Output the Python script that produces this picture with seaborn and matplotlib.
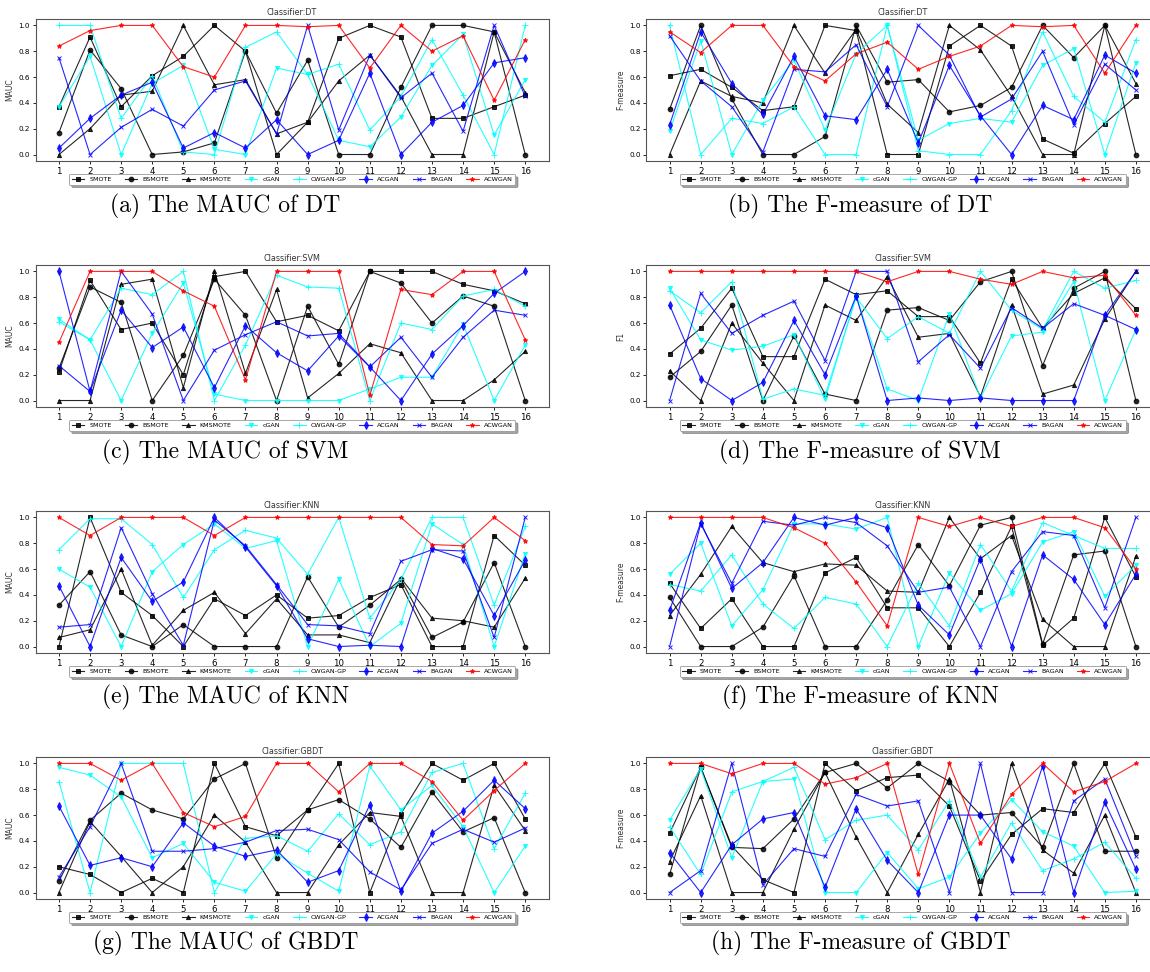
import matplotlib
matplotlib.use("Agg")

import matplotlib.pyplot as plt
import seaborn as sns

# --- data ---
X = list(range(1, 17))
METHODS = ["SMOTE", "BSMOTE", "KMSMOTE", "cGAN", "CWGAN-GP", "ACGAN", "BAGAN", "ACWGAN"]

# each panel: one list per method, in METHODS order
dt_mauc = [
    [0.37, 0.91, 0.37, 0.61, 0.76, 1.0, 0.80, 0.0, 0.25, 0.90, 1.0, 0.91, 0.28, 0.28, 0.37, 0.46],
    [0.17, 0.81, 0.51, 0.0, 0.02, 0.09, 0.80, 0.32, 0.73, 0.0, 0.0, 0.52, 1.0, 1.0, 0.95, 0.0],
    [0.0, 0.20, 0.46, 0.49, 1.0, 0.54, 0.58, 0.16, 0.25, 0.57, 0.77, 0.45, 0.0, 0.0, 0.95, 0.48],
    [0.37, 0.76, 0.0, 0.55, 0.69, 0.04, 0.0, 0.67, 0.62, 0.11, 0.06, 0.29, 0.69, 0.93, 0.15, 0.58],
    [1.0, 1.0, 0.28, 0.61, 0.02, 0.0, 0.83, 0.95, 0.62, 0.70, 0.19, 0.45, 0.89, 0.46, 0.0, 1.0],
    [0.05, 0.28, 0.46, 0.56, 0.05, 0.17, 0.05, 0.27, 0.0, 0.11, 0.63, 0.0, 0.25, 0.38, 0.71, 0.75],
    [0.75, 0.0, 0.21, 0.35, 0.22, 0.50, 0.57, 0.16, 1.0, 0.19, 0.77, 0.44, 0.63, 0.18, 1.0, 0.45],
    [0.84, 0.96, 1.0, 1.0, 0.68, 0.60, 1.0, 1.0, 0.99, 1.0, 0.67, 1.0, 0.80, 0.92, 0.42, 0.89],
]
dt_f = [
    [0.61, 0.66, 0.52, 0.34, 0.37, 1.0, 0.96, 0.0, 0.0, 0.84, 1.0, 0.84, 0.12, 0.01, 0.24, 0.45],
    [0.35, 1.0, 0.43, 0.0, 0.0, 0.14, 1.0, 0.56, 0.58, 0.33, 0.38, 0.52, 1.0, 0.75, 1.0, 0.0],
    [0.0, 0.57, 0.45, 0.40, 1.0, 0.63, 0.97, 0.39, 0.17, 1.0, 0.81, 0.45, 0.0, 0.0, 1.0, 0.55],
    [0.18, 0.88, 0.0, 0.42, 0.73, 0.19, 0.78, 1.0, 0.11, 0.24, 0.28, 0.25, 0.69, 0.82, 0.0, 0.71],
    [1.0, 0.0, 0.28, 0.24, 0.37, 0.0, 0.0, 1.0, 0.03, 0.0, 0.0, 0.34, 0.95, 0.45, 0.25, 0.89],
    [0.23, 0.95, 0.55, 0.31, 0.76, 0.30, 0.27, 0.66, 0.09, 0.69, 0.30, 0.0, 0.38, 0.27, 0.77, 0.63],
    [0.92, 0.57, 0.37, 0.02, 0.66, 0.64, 0.85, 0.37, 1.0, 0.77, 0.29, 0.43, 0.80, 0.23, 0.70, 0.50],
    [0.95, 0.79, 1.0, 1.0, 0.68, 0.57, 0.78, 0.87, 0.66, 0.76, 0.84, 1.0, 0.99, 1.0, 0.63, 1.0],
]
svm_mauc = [
    [0.22, 0.93, 0.55, 0.60, 0.20, 0.96, 1.0, 0.61, 0.66, 0.54, 1.0, 1.0, 1.0, 0.90, 0.85, 0.75],
    [0.25, 0.88, 0.76, 0.0, 0.35, 0.94, 0.66, 0.0, 0.73, 0.28, 1.0, 0.91, 0.60, 0.81, 0.73, 0.0],
    [0.0, 0.0, 0.90, 0.94, 0.10, 1.0, 0.21, 0.86, 0.02, 0.21, 0.44, 0.37, 0.0, 0.0, 0.16, 0.38],
    [0.63, 0.47, 0.0, 0.52, 0.91, 0.05, 0.0, 0.0, 0.0, 0.0, 0.09, 0.18, 0.18, 0.59, 0.0, 0.43],
    [0.61, 0.47, 0.87, 0.82, 1.0, 0.0, 0.43, 0.97, 0.88, 0.87, 0.0, 0.60, 0.55, 0.81, 0.86, 0.73],
    [1.0, 0.07, 0.70, 0.41, 0.57, 0.10, 0.58, 0.37, 0.23, 0.50, 0.26, 0.0, 0.36, 0.58, 0.83, 1.0],
    [0.27, 0.07, 1.0, 0.67, 0.0, 0.39, 0.51, 0.61, 0.50, 0.52, 0.26, 0.49, 0.18, 0.49, 0.70, 0.66],
    [0.45, 1.0, 1.0, 1.0, 0.85, 0.73, 0.16, 1.0, 1.0, 1.0, 0.04, 0.86, 0.82, 1.0, 1.0, 0.47],
]
svm_f = [
    [0.36, 0.56, 0.87, 0.34, 0.34, 0.94, 0.82, 0.85, 0.65, 0.65, 0.29, 0.94, 0.56, 0.83, 0.95, 0.71],
    [0.18, 0.38, 0.74, 0.0, 0.50, 0.05, 0.0, 0.70, 0.72, 0.62, 0.92, 1.0, 0.27, 0.87, 1.0, 0.0],
    [0.23, 0.0, 0.60, 0.29, 0.0, 0.74, 0.62, 0.96, 0.49, 0.52, 0.03, 0.74, 0.05, 0.12, 0.63, 1.0],
    [0.87, 0.47, 0.39, 0.42, 0.51, 0.01, 0.81, 0.09, 0.0, 0.67, 0.02, 0.50, 0.53, 0.92, 0.0, 0.55],
    [0.85, 0.68, 0.92, 0.01, 0.09, 0.04, 0.80, 0.48, 0.65, 0.52, 1.0, 0.70, 0.55, 1.0, 0.87, 0.93],
    [0.74, 0.17, 0.0, 0.14, 0.62, 0.20, 0.81, 0.0, 0.02, 0.0, 0.02, 0.0, 0.0, 0.0, 0.66, 0.55],
    [0.0, 0.83, 0.52, 0.66, 0.77, 0.31, 1.0, 1.0, 0.30, 0.51, 0.25, 0.72, 0.56, 0.75, 0.66, 1.0],
    [1.0, 1.0, 1.0, 1.0, 1.0, 1.0, 1.0, 0.92, 1.0, 1.0, 0.94, 0.90, 1.0, 0.95, 0.97, 0.66],
]
knn_mauc = [
    [0.0, 1.0, 0.42, 0.24, 0.0, 0.37, 0.24, 0.40, 0.22, 0.24, 0.38, 0.48, 0.0, 0.0, 0.86, 0.63],
    [0.32, 0.58, 0.09, 0.0, 0.17, 0.0, 0.0, 0.0, 0.54, 0.15, 0.32, 0.52, 0.07, 0.19, 0.65, 0.0],
    [0.07, 0.13, 0.60, 0.01, 0.28, 0.42, 0.10, 0.37, 0.09, 0.09, 0.03, 0.53, 0.22, 0.20, 0.15, 0.53],
    [0.60, 0.46, 0.0, 0.58, 0.79, 0.95, 0.76, 0.82, 0.0, 0.52, 0.0, 0.18, 0.95, 0.79, 0.0, 0.72],
    [0.75, 0.99, 0.99, 0.79, 0.38, 0.75, 0.90, 0.84, 0.56, 1.0, 0.22, 0.52, 1.0, 1.0, 0.32, 0.93],
    [0.47, 0.0, 0.69, 0.35, 0.50, 1.0, 0.77, 0.47, 0.06, 0.0, 0.01, 0.0, 0.76, 0.68, 0.24, 0.67],
    [0.15, 0.17, 0.92, 0.41, 0.01, 0.98, 0.78, 0.48, 0.17, 0.16, 0.10, 0.66, 0.75, 0.74, 0.07, 1.0],
    [1.0, 0.86, 1.0, 1.0, 1.0, 0.86, 1.0, 1.0, 1.0, 1.0, 1.0, 1.0, 0.79, 0.78, 1.0, 0.82],
]
knn_f = [
    [0.49, 0.14, 0.37, 0.0, 0.0, 0.57, 0.69, 0.30, 0.30, 0.0, 0.42, 0.93, 0.01, 0.22, 1.0, 0.54],
    [0.38, 0.0, 0.0, 0.15, 0.55, 0.0, 0.0, 0.36, 0.79, 0.47, 0.94, 1.0, 0.02, 0.71, 0.74, 0.0],
    [0.24, 0.56, 0.93, 0.65, 0.58, 0.64, 0.63, 0.43, 0.42, 1.0, 0.68, 0.86, 0.21, 0.0, 0.0, 0.70],
    [0.56, 0.80, 0.16, 0.44, 0.95, 0.95, 0.91, 1.0, 0.0, 0.57, 0.28, 0.41, 0.81, 0.89, 0.39, 0.63],
    [0.48, 0.43, 0.71, 0.33, 0.14, 0.38, 0.33, 0.0, 0.49, 0.16, 0.79, 0.43, 0.96, 0.86, 0.76, 0.76],
    [0.28, 0.96, 0.45, 0.65, 1.0, 0.94, 1.0, 0.92, 0.32, 0.09, 0.68, 0.0, 0.71, 0.52, 0.17, 0.56],
    [0.0, 0.95, 0.49, 0.97, 0.94, 1.0, 0.96, 0.78, 0.42, 0.46, 0.0, 0.58, 0.89, 0.86, 0.30, 1.0],
    [1.0, 1.0, 1.0, 1.0, 0.92, 0.80, 0.50, 0.16, 1.0, 0.93, 1.0, 0.93, 1.0, 1.0, 0.92, 0.60],
]
gbdt_mauc = [
    [0.20, 0.14, 0.0, 0.11, 0.0, 1.0, 0.51, 0.44, 0.64, 1.0, 0.0, 0.61, 1.0, 0.87, 1.0, 0.57],
    [0.09, 0.56, 0.77, 0.64, 0.57, 0.88, 1.0, 0.27, 0.64, 0.72, 0.57, 0.35, 0.78, 0.47, 0.58, 0.0],
    [0.0, 0.55, 0.28, 0.0, 0.20, 0.60, 0.39, 0.0, 0.0, 0.37, 0.62, 0.59, 0.0, 0.0, 0.83, 0.48],
    [0.97, 0.91, 0.74, 0.27, 0.38, 0.08, 0.01, 0.30, 0.15, 0.01, 0.98, 0.64, 0.83, 0.51, 0.0, 0.36],
    [0.86, 0.0, 1.0, 1.0, 1.0, 0.0, 0.42, 0.44, 0.32, 0.61, 0.37, 0.47, 0.93, 1.0, 0.34, 0.77],
    [0.67, 0.21, 0.27, 0.20, 0.54, 0.36, 0.28, 0.33, 0.08, 0.17, 0.68, 0.01, 0.46, 0.63, 0.87, 0.65],
    [0.12, 0.51, 1.0, 0.32, 0.32, 0.34, 0.39, 0.48, 0.49, 0.41, 0.16, 0.02, 0.38, 0.49, 0.39, 0.50],
    [1.0, 1.0, 0.87, 1.0, 0.62, 0.51, 0.59, 1.0, 1.0, 0.78, 1.0, 1.0, 0.86, 0.56, 0.79, 1.0],
]
gbdt_f = [
    [0.46, 0.97, 0.36, 0.10, 0.0, 1.0, 0.79, 0.89, 0.91, 0.67, 0.09, 0.45, 0.65, 0.62, 1.0, 0.43],
    [0.14, 0.97, 0.35, 0.34, 0.57, 0.93, 1.0, 0.81, 1.0, 0.86, 0.60, 0.62, 0.35, 1.0, 0.32, 0.32],
    [0.24, 0.75, 0.0, 0.0, 0.49, 0.93, 0.43, 0.0, 0.45, 0.88, 0.0, 1.0, 0.33, 0.15, 0.60, 0.0],
    [0.56, 0.96, 0.27, 0.86, 0.88, 0.0, 0.0, 0.31, 0.03, 0.12, 0.46, 0.72, 0.47, 0.36, 0.0, 0.01],
    [0.51, 0.14, 0.78, 0.86, 0.97, 0.41, 0.56, 0.60, 0.33, 0.71, 0.12, 0.54, 0.17, 0.26, 0.39, 0.11],
    [0.31, 0.0, 0.37, 0.57, 0.62, 0.04, 0.65, 0.25, 0.0, 0.60, 0.60, 0.26, 0.98, 0.0, 0.70, 0.18],
    [0.0, 0.17, 1.0, 0.06, 0.34, 0.28, 0.76, 0.67, 0.71, 0.0, 1.0, 0.0, 0.0, 0.71, 0.88, 0.28],
    [1.0, 1.0, 0.92, 1.0, 1.0, 0.84, 0.89, 1.0, 0.14, 1.0, 0.38, 0.76, 1.0, 0.78, 0.86, 1.0],
]

PANELS = [
    (dt_mauc, "Classifier:DT", "MAUC", "(a) The MAUC of DT"),
    (dt_f, "Classifier:DT", "F-measure", "(b) The F-measure of DT"),
    (svm_mauc, "Classifier:SVM", "MAUC", "(c) The MAUC of SVM"),
    (svm_f, "Classifier:SVM", "F1", "(d) The F-measure of SVM"),
    (knn_mauc, "Classifier:KNN", "MAUC", "(e) The MAUC of KNN"),
    (knn_f, "Classifier:KNN", "F-measure", "(f) The F-measure of KNN"),
    (gbdt_mauc, "Classifier:GBDT", "MAUC", "(g) The MAUC of GBDT"),
    (gbdt_f, "Classifier:GBDT", "F-measure", "(h) The F-measure of GBDT"),
]

# --- styles ---
STYLE = {
    "SMOTE": ("black", "s", 2.6),
    "BSMOTE": ("black", "o", 3.4),
    "KMSMOTE": ("black", "^", 3.0),
    "cGAN": ("cyan", "v", 3.0),
    "CWGAN-GP": ("cyan", "+", 4.0),
    "ACGAN": ("blue", "d", 3.6),
    "BAGAN": ("blue", "x", 3.2),
    "ACWGAN": ("red", "*", 3.4),
}

COL_LEFT = [0.031, 0.562]
AX_W = 0.446
ROW_BOTTOM = [0.8344, 0.5813, 0.3282, 0.0751]
AX_H = 0.1461
CAP_X = [0.196, 0.748]
CAP_Y = [0.788, 0.535, 0.282, 0.029]


def draw_panel(ax, series, title, ylabel):
    for name, vals in zip(METHODS, series):
        color, marker, ms = STYLE[name]
        sns.lineplot(x=X, y=vals, ax=ax, color=color, marker=marker,
                     markersize=ms, markeredgecolor=color, markeredgewidth=0.7,
                     linewidth=0.8, alpha=0.85, label=name, legend=False)
    ax.set_xticks(X)
    ax.set_title(title, fontsize=5.8, pad=2.5, color="#333333")
    ax.set_ylabel(ylabel, fontsize=5.5, labelpad=3, color="#333333")
    ax.set_xlabel("")
    ax.tick_params(axis="x", labelsize=6.2, length=2.5, width=0.6, pad=1.5)
    ax.tick_params(axis="y", labelsize=5.2, length=2.5, width=0.6, pad=1.5)
    ax.yaxis.set_major_formatter(plt.FormatStrFormatter("%.1f"))
    for sp in ax.spines.values():
        sp.set_color("#555555")
        sp.set_linewidth(0.8)
    leg = ax.legend(loc="upper center", bbox_to_anchor=(0.5, -0.07), ncol=8,
                    fontsize=4.6, frameon=True, shadow=True, borderpad=0.4)
    leg.get_frame().set_edgecolor("#999999")
    leg.get_frame().set_linewidth(0.6)


fig = plt.figure(figsize=(11.5, 9.72), dpi=100)

for i, (series, title, ylabel, caption) in enumerate(PANELS):
    row, col = divmod(i, 2)
    ax = fig.add_axes([COL_LEFT[col], ROW_BOTTOM[row], AX_W, AX_H])
    draw_panel(ax, series, title, ylabel)
    fig.text(CAP_X[col], CAP_Y[row], caption, ha="center", va="center",
             fontsize=17, family="cmr10")

fig.savefig("out.png", dpi=100)
plt.close(fig)
